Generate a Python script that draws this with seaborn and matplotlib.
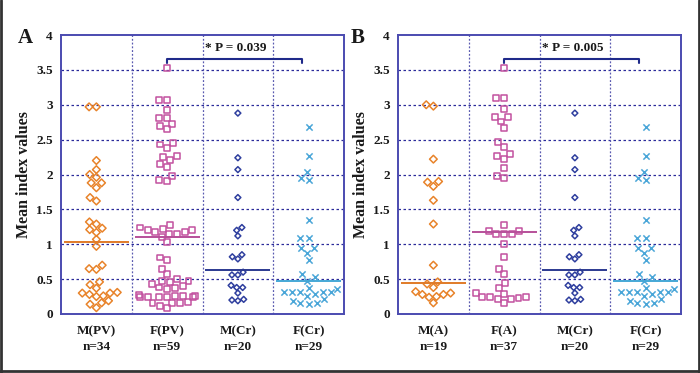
import matplotlib
matplotlib.use("Agg")
import matplotlib.pyplot as plt
from matplotlib.lines import Line2D
import seaborn as sns
import pandas as pd
import numpy as np
import warnings
warnings.filterwarnings("ignore")

sns.set_theme(style="white")
plt.rcParams['font.family'] = ['Liberation Serif', 'DejaVu Serif']

# ---------------- data ----------------
cats_A = ["M(PV)", "F(PV)", "M(Cr)", "F(Cr)"]
n_A = [34, 59, 20, 29]
cats_B = ["M(A)", "F(A)", "M(Cr)", "F(Cr)"]
n_B = [19, 37, 20, 29]

m_pv = [2.97, 2.97, 2.20, 2.07, 2.00, 1.96, 1.88, 1.88, 1.81, 1.67, 1.62,
        1.32, 1.29, 1.23, 1.21, 1.17, 1.07, 0.97, 0.70, 0.65, 0.64, 0.46, 0.42,
        0.37, 0.31, 0.30, 0.30, 0.28, 0.26, 0.25, 0.19, 0.16, 0.14, 0.09]
f_pv = [3.52, 3.07, 3.07, 2.92, 2.81, 2.81, 2.73, 2.69, 2.65, 2.45, 2.43, 2.38,
        2.27, 2.25, 2.21, 2.15, 2.11, 1.98, 1.92, 1.90,
        1.28, 1.24, 1.22, 1.20, 1.20, 1.18, 1.17, 1.15, 1.15, 1.11,
        1.03, 0.81, 0.78, 0.65, 0.57,
        0.50, 0.48, 0.47, 0.46, 0.43, 0.40, 0.38, 0.37, 0.36,
        0.27, 0.26, 0.26, 0.26, 0.25, 0.25, 0.25, 0.25, 0.24,
        0.17, 0.16, 0.16, 0.16, 0.12, 0.08]
m_cr = [2.88, 2.24, 2.07, 1.67, 1.24, 1.20, 1.12, 0.85, 0.82, 0.79, 0.60, 0.56,
        0.56, 0.41, 0.38, 0.38, 0.30, 0.21, 0.20, 0.19]
f_cr = [2.68, 2.27, 2.03, 1.95, 1.92, 1.35, 1.09, 1.09, 0.95, 0.94, 0.88, 0.77,
        0.57, 0.53, 0.48, 0.37, 0.36, 0.32, 0.32, 0.32, 0.32, 0.31, 0.29, 0.26,
        0.21, 0.19, 0.16, 0.16, 0.15]
m_a = [3.00, 2.98, 2.22, 1.90, 1.89, 1.83, 1.63, 1.29, 0.70, 0.46, 0.43, 0.38,
       0.32, 0.30, 0.28, 0.28, 0.25, 0.24, 0.16]
f_a = [3.53, 3.10, 3.09, 2.94, 2.83, 2.82, 2.76, 2.66, 2.46, 2.39, 2.29, 2.26,
       2.22, 2.10, 1.98, 1.95,
       1.27, 1.19, 1.19, 1.14, 1.14, 1.14,
       1.01, 0.82, 0.65, 0.57, 0.44, 0.37,
       0.30, 0.29, 0.25, 0.25, 0.25, 0.23, 0.22, 0.22,
       0.16]

medians_A = [1.03, 1.11, 0.63, 0.48]
medians_B = [0.44, 1.17, 0.63, 0.48]
p_text_A = "* P = 0.039"
p_text_B = "* P = 0.005"
y_ticks = [0, 0.5, 1, 1.5, 2, 2.5, 3, 3.5, 4]

# ---------------- styles ----------------
point_colors = ["#E8832A", "#C2519F", "#2E3E9E", "#4AA6D8"]
line_colors = ["#E07B28", "#B7509A", "#2B3990", "#45A8D6"]
markers = ["D", "s", "D", "x"]
msizes = [3.9, 4.3, 3.0, 4.5]
spine_c = "#4B4BB0"
grid_c = "#2A2A9A"
text_c = "#1a1a1a"

fig = plt.figure(figsize=(7.0, 3.73), dpi=100)
axA = fig.add_axes([61/700, 59/373, 283/700, 279/373])
axB = fig.add_axes([398/700, 59/373, 283/700, 279/373])


def draw_panel(ax, cats, ns, groups, medians, ptext):
    for i, vals in enumerate(groups):
        df = pd.DataFrame({"group": cats[i], "value": vals})
        kw = dict(data=df, x="group", y="value", order=cats, ax=ax,
                  marker=markers[i], size=msizes[i], color=point_colors[i],
                  edgecolor=point_colors[i], linewidth=1.1, zorder=4)
        if markers[i] != "x":
            kw["facecolor"] = "none"
        sns.swarmplot(**kw)
    pos = np.arange(len(cats))
    ax.hlines(medians, pos - 0.46, pos + 0.46, colors=line_colors, lw=1.4, zorder=5)
    ax.set_xlim(-0.5, len(cats) - 0.5)
    ax.set_ylim(0, 4)
    ax.set_yticks(y_ticks)
    ax.set_yticklabels([f"{v:g}" for v in y_ticks], fontsize=9.5,
                       fontweight="bold", color=text_c)
    ax.set_xticks(pos)
    ax.set_xticklabels([f"{c}\nn={n}" for c, n in zip(cats, ns)], fontsize=9.5,
                       fontweight="bold", color=text_c, linespacing=1.45)
    ax.tick_params(axis="both", length=0)
    ax.tick_params(axis="x", pad=8)
    ax.tick_params(axis="y", pad=6)
    ax.set_xlabel("")
    ax.set_ylabel("Mean index values", fontsize=11.5, fontweight="bold",
                  color=text_c, labelpad=3)
    for yv in y_ticks[1:-1]:
        ax.axhline(yv, color=grid_c, lw=0.9, ls=(0, (2, 2)), zorder=1)
    for xv in pos[:-1] + 0.5:
        ax.axvline(xv, color="#5A5AB0", lw=0.9, ls=(0, (1.5, 1.5)), zorder=1)
    for s in ax.spines.values():
        s.set_color(spine_c)
        s.set_linewidth(1.4)
    ax.plot([1, 1, 2.9, 2.9], [3.6, 3.66, 3.66, 3.6], color="#1F2A8A", lw=1.5,
            zorder=5)
    ax.text(1.53, 3.82, ptext, fontsize=9.5, fontweight="bold", color=text_c,
            ha="left", va="center")


draw_panel(axA, cats_A, n_A, [m_pv, f_pv, m_cr, f_cr], medians_A, p_text_A)
draw_panel(axB, cats_B, n_B, [m_a, f_a, m_cr, f_cr], medians_B, p_text_B)

fig.text(25/700, 1 - 38/373, "A", fontsize=15, fontweight="bold", color=text_c,
         ha="center", va="center")
fig.text(358/700, 1 - 38/373, "B", fontsize=15, fontweight="bold", color=text_c,
         ha="center", va="center")

# figure frame (left, right, bottom)
for xs, ys in [([0.002, 0.002], [0, 1]), ([0.998, 0.998], [0, 1]),
               ([0, 1], [0.006, 0.006])]:
    fig.add_artist(Line2D(xs, ys, transform=fig.transFigure, color="#333333",
                          lw=2.0))

fig.savefig("out.png", dpi=100)
